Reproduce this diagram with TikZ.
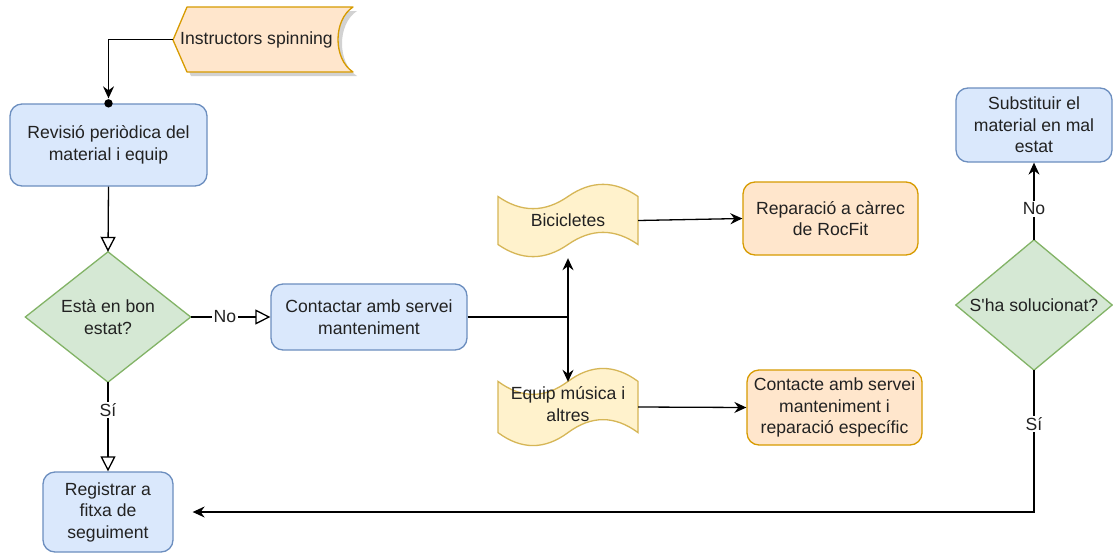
\documentclass[tikz,border=0pt]{standalone}
\usepackage{fontspec}
\setmainfont{Liberation Sans}
\usetikzlibrary{arrows.meta,calc}
\definecolor{bfill}{HTML}{DAE8FC}\definecolor{bline}{HTML}{6C8EBF}
\definecolor{gfill}{HTML}{D5E8D4}\definecolor{gline}{HTML}{82B366}
\definecolor{ofill}{HTML}{FFE6CC}\definecolor{oline}{HTML}{D79B00}
\definecolor{yfill}{HTML}{FFF2CC}\definecolor{yline}{HTML}{D6B656}
\definecolor{txt}{HTML}{222222}
\newcommand\tapeshape[5]{%
\begin{scope}[shift={(#2,#3)}]
\pgfmathsetmacro\tpw{#4}\pgfmathsetmacro\tph{#5}\pgfmathsetmacro\tpd{0.36*#5}
\draw[#1] (0,{\tpd/2}) .. controls ({\tpw/6},{1.1*\tpd}) and ({\tpw/3},{1.1*\tpd}) .. ({\tpw/2},{\tpd/2})
 .. controls ({2*\tpw/3},{-0.1*\tpd}) and ({5*\tpw/6},{-0.1*\tpd}) .. (\tpw,{\tpd/2})
 -- (\tpw,{\tph-\tpd/2})
 .. controls ({5*\tpw/6},{\tph-1.1*\tpd}) and ({2*\tpw/3},{\tph-1.1*\tpd}) .. ({\tpw/2},{\tph-\tpd/2})
 .. controls ({\tpw/3},{\tph+0.1*\tpd}) and ({\tpw/6},{\tph+0.1*\tpd}) .. (0,{\tph-\tpd/2}) -- cycle;
\end{scope}}
\begin{document}
\begin{tikzpicture}[x=1pt,y=-1pt,
  font=\fontsize{17.6}{21.5}\selectfont,
  every node/.style={text=txt,align=center,inner sep=0pt},
  boxb/.style={draw=bline,fill=bfill,line width=1.3pt,rounded corners=12pt},
  boxo/.style={draw=oline,fill=ofill,line width=1.3pt,rounded corners=12pt},
  holder/.style={rectangle},
  decst/.style={draw=gline,fill=gfill,line width=1.3pt,line join=miter},
  tapest/.style={draw=yline,fill=yfill,line width=1.3pt},
  conn/.style={draw=black,line width=1.3pt},
  carrow/.style={conn,-{Stealth[length=12pt,width=11pt,inset=4pt]}},
  oarrow/.style={conn,-{Triangle[open,length=15pt,width=15pt,fill=white]}},
  elabel/.style={fill=white,inner sep=1.5pt}]
\useasboundingbox (0,0) rectangle (1113,554);
\fill[white] (0,0) rectangle (1113,554);

% top input shape with shadow
\fill[black!25,opacity=0.7,shift={(4,4)}] (187,7) -- (353,7) .. controls (333,20) and (333,59) .. (353,72) -- (187,72) -- (173,40) -- cycle;
\draw[draw=oline,fill=ofill,line width=1.3pt,line join=round] (187,7) -- (353,7) .. controls (333,20) and (333,59) .. (353,72) -- (187,72) -- (173,40) -- cycle;
\node[holder,minimum width=167,minimum height=65] (ins) at (256.5,39.5) {Instructors spinning};

% left column
\node[boxb,minimum width=197,minimum height=82] (rev) at (108.5,145) {Revisió periòdica del\\material i equip};
\node[holder,minimum width=165,minimum height=130] (ok) at (108,317) {};
\draw[decst] (ok.north) -- (ok.east) -- (ok.south) -- (ok.west) -- cycle;
\node at (ok) {Està en bon\\estat?};
\node[boxb,minimum width=130,minimum height=80] (reg) at (108,512) {Registrar a\\fitxa de\\seguiment};
\node[boxb,minimum width=196,minimum height=66] (con) at (369,317) {Contactar amb servei\\manteniment};

% tapes
\tapeshape{tapest}{498}{183}{140}{75}
\node[holder,minimum width=140,minimum height=75] (bic) at (568,220.5) {Bicicletes};
\tapeshape{tapest}{498}{367}{140}{80}
\node[holder,minimum width=140,minimum height=80] (eq) at (568,407) {};
\node at (568,404) {Equip música i\\altres};

% orange boxes
\node[boxo,minimum width=175,minimum height=73] (rep) at (830.5,218.5) {Reparació a càrrec\\de RocFit};
\node[boxo,minimum width=175,minimum height=75] (ctc) at (834.5,407.5) {Contacte amb servei\\manteniment i\\reparació específic};

% right column
\node[boxb,minimum width=156,minimum height=74] (sub) at (1034,125) {Substituir el\\material en mal\\estat};
\node[holder,minimum width=156,minimum height=130] (sol) at (1034,305) {};
\draw[decst] (sol.north) -- (sol.east) -- (sol.south) -- (sol.west) -- cycle;
\node at (sol) {S\textquotesingle ha solucionat?};

% connectors
\draw[carrow,shorten >=5pt] (ins.west) -| (rev.north);
\fill[black] (rev.north) circle (4.2);
\draw[oarrow] (rev.south) -- (ok.north);
\draw[oarrow] (ok.east) -- node[elabel,pos=0.43] {No} (con.west);
\draw[oarrow] (ok.south) -- node[elabel,pos=0.31] {Sí} (reg.north);
\coordinate (sp) at (568,317);
\draw[conn] (con.east) -- (sp);
\draw[carrow] (sp) -- (bic.south);
\draw[carrow] (sp) -- ([yshift=-15pt]eq.north);
\draw[carrow] (bic.east) -- (rep.west);
\draw[carrow] (eq.east) -- (ctc.west);
\draw[carrow] (sol.north) -- node[elabel,pos=0.4] {No} (sub.south);
\draw[carrow,shorten >=19pt] (sol.south) |- node[elabel,pos=0.19] {Sí} (reg.east);
\end{tikzpicture}
\end{document}
